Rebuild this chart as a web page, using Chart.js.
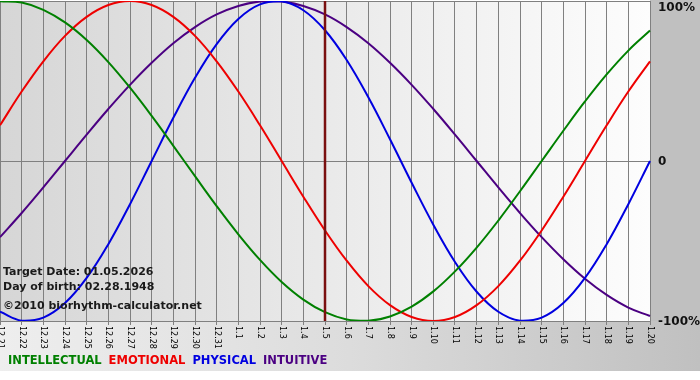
<!DOCTYPE html>
<html>
<head>
<meta charset="utf-8">
<script src="https://cdn.jsdelivr.net/npm/chart.js@4"></script>
<style>
  html, body { margin: 0; padding: 0; background: #ffffff; }
  #wrap { width: 700px; height: 380px; }
</style>
</head>
<body>
<div id="wrap"><canvas id="c" width="700" height="380"></canvas></div>
<script>
// ---- data (percent) ----
const dayLabels = ["12.21","12.22","12.23","12.24","12.25","12.26","12.27","12.28","12.29","12.30","12.31",
  "1.1","1.2","1.3","1.4","1.5","1.6","1.7","1.8","1.9","1.10","1.11","1.12","1.13","1.14","1.15","1.16","1.17","1.18","1.19","1.20"];
const intellectual = [99.9,99.0,94.5,86.6,75.6,61.8,45.8,28.2,9.5,-9.5,-28.2,-45.8,-61.8,-75.6,-86.6,-94.5,-99.0,-99.9,-97.2,-91.0,-81.5,-69.0,-54.1,-37.2,-18.9,0,18.9,37.2,54.1,69.0,81.5];
const emotional    = [22.3,43.4,62.3,78.2,90.1,97.5,100,97.5,90.1,78.2,62.3,43.4,22.3,0,-22.3,-43.4,-62.3,-78.2,-90.1,-97.5,-100,-97.5,-90.1,-78.2,-62.3,-43.4,-22.3,0,22.3,43.4,62.3];
const physical     = [-94.2,-99.8,-97.9,-88.8,-73.1,-52.0,-27.0,0,27.0,52.0,73.1,88.8,97.9,99.8,94.2,81.7,63.1,39.8,13.6,-13.6,-39.8,-63.1,-81.7,-94.2,-99.8,-97.9,-88.8,-73.1,-52.0,-27.0,0];
const intuitive    = [-47.6,-32.5,-16.5,0,16.5,32.5,47.6,61.4,73.6,83.7,91.6,96.9,99.7,99.7,96.9,91.6,83.7,73.6,61.4,47.6,32.5,16.5,0,-16.5,-32.5,-47.6,-61.4,-73.6,-83.7,-91.6,-96.9];
const yTickValues  = [100, 0, -100];
const yTickLabels  = ["100%", "0", "-100%"];
const targetLabel  = "1.5";
const infoLines    = ["Target Date: 01.05.2026", "Day of birth: 02.28.1948", "\u00A92010 biorhythm-calculator.net"];

const C_INT = "#008000", C_EMO = "#ee0000", C_PHY = "#0000e0", C_INTU = "#4b0082";

const decorPlugin = {
  id: "decor",
  beforeDraw(chart) {
    const ctx = chart.ctx, a = chart.chartArea, W = chart.width;
    ctx.save();
    ctx.fillStyle = "#ffffff";
    ctx.fillRect(0, 0, W, chart.height);
    ctx.fillStyle = "#c0c0c0";
    ctx.fillRect(a.right, 0, W - a.right, a.bottom);
    let g = ctx.createLinearGradient(0, 0, W, 0);
    g.addColorStop(0, "#eeeeee");
    g.addColorStop(0.5, "#dcdcdc");
    g.addColorStop(1, "#c0c0c0");
    ctx.fillStyle = g;
    ctx.fillRect(0, a.bottom, W, 371 - a.bottom);
    g = ctx.createLinearGradient(a.left, 0, a.right, 0);
    g.addColorStop(0, "#d6d6d6");
    g.addColorStop(1, "#fdfdfd");
    ctx.fillStyle = g;
    ctx.fillRect(a.left, a.top, a.right - a.left, a.bottom - a.top);
    ctx.restore();
  },
  afterDatasetsDraw(chart) {
    const ctx = chart.ctx, a = chart.chartArea, xs = chart.scales.x;
    const tx = xs.getPixelForValue(dayLabels.indexOf(targetLabel));
    ctx.save();
    ctx.strokeStyle = "#7a1010";
    ctx.lineWidth = 2.5;
    ctx.beginPath();
    ctx.moveTo(tx, a.top);
    ctx.lineTo(tx, a.bottom);
    ctx.stroke();
    ctx.restore();
  },
  afterDraw(chart) {
    const ctx = chart.ctx, a = chart.chartArea, xs = chart.scales.x, ys = chart.scales.y;
    ctx.save();
    ctx.fillStyle = "#000000";
    ctx.font = "8px 'DejaVu Sans'";
    ctx.textAlign = "left";
    ctx.textBaseline = "middle";
    dayLabels.forEach((lab, i) => {
      const x = xs.getPixelForValue(i);
      ctx.save();
      ctx.translate(x, a.bottom + 5);
      ctx.rotate(Math.PI / 2);
      ctx.fillText(lab, 0, 0);
      ctx.restore();
    });
    ctx.font = "bold 12px 'DejaVu Sans'";
    ctx.fillStyle = "#111111";
    yTickValues.forEach((v, i) => {
      let y = ys.getPixelForValue(v) + 1;
      if (y < 8) y = 8;
      ctx.fillText(yTickLabels[i], a.right + 8, y);
    });
    ctx.font = "bold 11px 'DejaVu Sans'";
    ctx.fillStyle = "#1a1a1a";
    const infoY = [272, 287, 306];
    infoLines.forEach((t, i) => ctx.fillText(t, 3, infoY[i]));
    ctx.font = "bold 11.5px 'DejaVu Sans'";
    let lx = 8;
    chart.data.datasets.forEach(ds => {
      ctx.fillStyle = ds.borderColor;
      ctx.fillText(ds.label, lx, 361);
      lx += ctx.measureText(ds.label).width + 7;
    });
    ctx.restore();
  }
};

new Chart(document.getElementById("c"), {
  type: "line",
  data: {
    labels: dayLabels,
    datasets: [
      { label: "INTELLECTUAL", data: intellectual, borderColor: C_INT },
      { label: "EMOTIONAL", data: emotional, borderColor: C_EMO },
      { label: "PHYSICAL", data: physical, borderColor: C_PHY },
      { label: "INTUITIVE", data: intuitive, borderColor: C_INTU }
    ].map(d => Object.assign(d, { borderWidth: 2, pointRadius: 0, tension: 0.4, fill: false }))
  },
  options: {
    responsive: false,
    animation: false,
    devicePixelRatio: 1,
    layout: { padding: { left: 0, right: 50, top: 1, bottom: 55 } },
    plugins: { legend: { display: false }, tooltip: { enabled: false } },
    scales: {
      x: {
        offset: false,
        ticks: { display: false },
        grid: { color: "#808080", lineWidth: 1, drawTicks: true, tickLength: 4 },
        border: { display: false }
      },
      y: {
        position: "right",
        min: -100, max: 100,
        ticks: { display: false, stepSize: 100 },
        grid: { color: "#808080", lineWidth: 1, drawTicks: false },
        border: { display: true, color: "#808080" }
      }
    }
  },
  plugins: [decorPlugin]
});
</script>
</body>
</html>
